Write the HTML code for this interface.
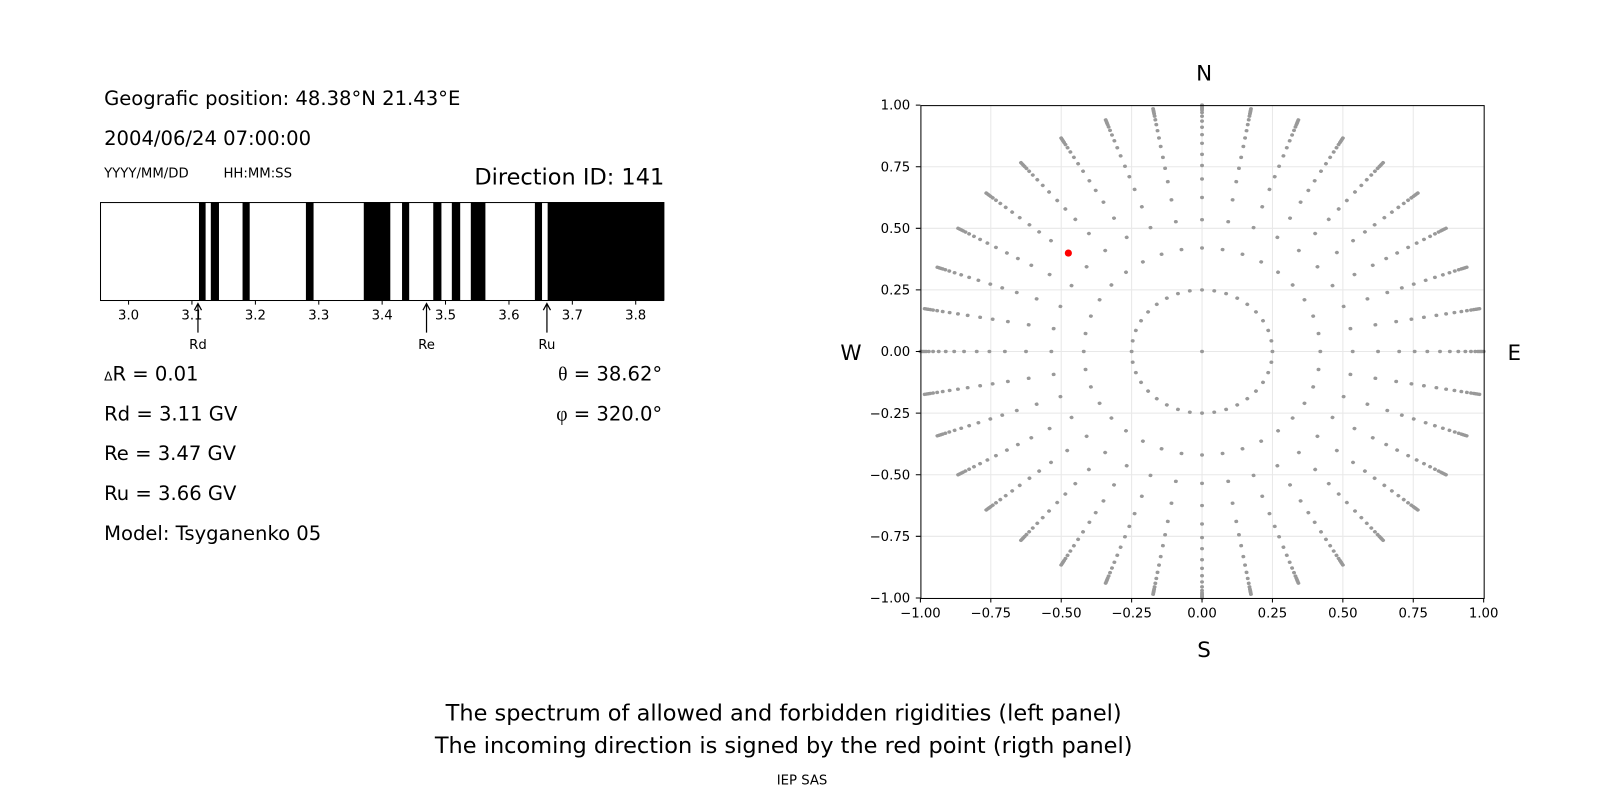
<!DOCTYPE html>
<html><head><meta charset="utf-8"><style>
html,body{margin:0;padding:0;background:#fff;}
svg{display:block;font-family:"DejaVu Sans","Liberation Sans",sans-serif;}
</style></head><body>
<svg width="1600" height="800" xmlns="http://www.w3.org/2000/svg" xmlns:xlink="http://www.w3.org/1999/xlink">
<rect width="1600" height="800" fill="#fff"/>
<defs>
<g id="sp" fill="#999">
<circle cx="0" cy="-0.25" r="0.007"/><circle cx="0" cy="-0.42" r="0.007"/><circle cx="0" cy="-0.535" r="0.007"/>
<circle cx="0" cy="-0.625" r="0.007"/><circle cx="0" cy="-0.70" r="0.007"/><circle cx="0" cy="-0.755" r="0.007"/>
<circle cx="0" cy="-0.80" r="0.007"/><circle cx="0" cy="-0.845" r="0.007"/><circle cx="0" cy="-0.88" r="0.007"/>
<circle cx="0" cy="-0.91" r="0.007"/><circle cx="0" cy="-0.935" r="0.007"/><circle cx="0" cy="-0.955" r="0.007"/>
<circle cx="0" cy="-0.97" r="0.007"/><circle cx="0" cy="-0.98" r="0.007"/><circle cx="0" cy="-0.987" r="0.007"/>
<circle cx="0" cy="-0.993" r="0.007"/><circle cx="0" cy="-1.0" r="0.007"/>
</g>
</defs>
<g transform="scale(1.0204)">
<text x="102" y="103" font-size="19.2">Geografic position: 48.38°N 21.43°E</text>
<text x="102" y="142" font-size="19.2">2004/06/24 07:00:00</text>
<text x="102" y="174" font-size="13">YYYY/MM/DD</text>
<text x="219" y="174" font-size="13">HH:MM:SS</text>
<text x="651" y="181" font-size="22" text-anchor="end">Direction ID: 141</text>
<g fill="#000">
<rect x="195" y="198" width="6.5" height="96"/>
<rect x="206.6" y="198" width="8" height="96"/>
<rect x="237.7" y="198" width="7" height="96"/>
<rect x="299.8" y="198" width="7.5" height="96"/>
<rect x="356.5" y="198" width="26" height="96"/>
<rect x="394" y="198" width="7" height="96"/>
<rect x="424.6" y="198" width="8" height="96"/>
<rect x="442.8" y="198" width="8.2" height="96"/>
<rect x="461.4" y="198" width="14.3" height="96"/>
<rect x="524.2" y="198" width="7" height="96"/>
<rect x="536.7" y="198" width="114.3" height="96"/>
</g>
<rect x="98.5" y="198.5" width="552" height="96" fill="none" stroke="#000" stroke-width="1"/>
<g stroke="#000" stroke-width="1">
<path d="M126 294v4.5M188.1 294v4.5M250.3 294v4.5M312.4 294v4.5M374.5 294v4.5M436.6 294v4.5M498.8 294v4.5M560.9 294v4.5M623 294v4.5"/>
</g>
<g font-size="13" text-anchor="middle">
<text x="126" y="313">3.0</text><text x="188.1" y="313">3.1</text><text x="250.3" y="313">3.2</text>
<text x="312.4" y="313">3.3</text><text x="374.5" y="313">3.4</text><text x="436.6" y="313">3.5</text>
<text x="498.8" y="313">3.6</text><text x="560.9" y="313">3.7</text><text x="623" y="313">3.8</text>
</g>
<g stroke="#000" stroke-width="1.2" fill="none">
<path d="M194 326V298M190.5 304L194 297.5L197.5 304"/>
<path d="M418 326V298M414.5 304L418 297.5L421.5 304"/>
<path d="M536 326V298M532.5 304L536 297.5L539.5 304"/>
</g>
<g font-size="13" text-anchor="middle">
<text x="194" y="342">Rd</text><text x="418" y="342">Re</text><text x="536" y="342">Ru</text>
</g>
<g font-size="19.2">
<text x="102" y="373"><tspan font-size="12">Δ</tspan>R = 0.01</text>
<text x="102" y="412">Rd = 3.11 GV</text>
<text x="102" y="451">Re = 3.47 GV</text>
<text x="102" y="490">Ru = 3.66 GV</text>
<text x="102" y="529">Model: Tsyganenko 05</text>
<text x="649" y="373" text-anchor="end"><tspan font-family="Liberation Serif,serif">θ</tspan> = 38.62°</text>
<text x="649" y="412" text-anchor="end"><tspan font-family="Liberation Serif,serif">φ</tspan> = 320.0°</text>
</g>
<g stroke="#e8e8e8" stroke-width="1">
<path d="M971 103V586M1040 103V586M1109 103V586M1178 103V586M1247 103V586M1316 103V586M1385 103V586"/>
<path d="M902 163.4H1454M902 223.75H1454M902 284.1H1454M902 344.5H1454M902 404.9H1454M902 465.25H1454M902 525.6H1454"/>
</g>
<g transform="translate(1178,344.5) scale(276,241.5)">
<circle cx="0" cy="0" r="0.007" fill="#999"/>
<use xlink:href="#sp" href="#sp" transform="rotate(0)"/><use xlink:href="#sp" href="#sp" transform="rotate(10)"/>
<use xlink:href="#sp" href="#sp" transform="rotate(20)"/><use xlink:href="#sp" href="#sp" transform="rotate(30)"/>
<use xlink:href="#sp" href="#sp" transform="rotate(40)"/><use xlink:href="#sp" href="#sp" transform="rotate(50)"/>
<use xlink:href="#sp" href="#sp" transform="rotate(60)"/><use xlink:href="#sp" href="#sp" transform="rotate(70)"/>
<use xlink:href="#sp" href="#sp" transform="rotate(80)"/><use xlink:href="#sp" href="#sp" transform="rotate(90)"/>
<use xlink:href="#sp" href="#sp" transform="rotate(100)"/><use xlink:href="#sp" href="#sp" transform="rotate(110)"/>
<use xlink:href="#sp" href="#sp" transform="rotate(120)"/><use xlink:href="#sp" href="#sp" transform="rotate(130)"/>
<use xlink:href="#sp" href="#sp" transform="rotate(140)"/><use xlink:href="#sp" href="#sp" transform="rotate(150)"/>
<use xlink:href="#sp" href="#sp" transform="rotate(160)"/><use xlink:href="#sp" href="#sp" transform="rotate(170)"/>
<use xlink:href="#sp" href="#sp" transform="rotate(180)"/><use xlink:href="#sp" href="#sp" transform="rotate(190)"/>
<use xlink:href="#sp" href="#sp" transform="rotate(200)"/><use xlink:href="#sp" href="#sp" transform="rotate(210)"/>
<use xlink:href="#sp" href="#sp" transform="rotate(220)"/><use xlink:href="#sp" href="#sp" transform="rotate(230)"/>
<use xlink:href="#sp" href="#sp" transform="rotate(240)"/><use xlink:href="#sp" href="#sp" transform="rotate(250)"/>
<use xlink:href="#sp" href="#sp" transform="rotate(260)"/><use xlink:href="#sp" href="#sp" transform="rotate(270)"/>
<use xlink:href="#sp" href="#sp" transform="rotate(280)"/><use xlink:href="#sp" href="#sp" transform="rotate(290)"/>
<use xlink:href="#sp" href="#sp" transform="rotate(300)"/><use xlink:href="#sp" href="#sp" transform="rotate(310)"/>
<use xlink:href="#sp" href="#sp" transform="rotate(320)"/><use xlink:href="#sp" href="#sp" transform="rotate(330)"/>
<use xlink:href="#sp" href="#sp" transform="rotate(340)"/><use xlink:href="#sp" href="#sp" transform="rotate(350)"/>
</g>
<circle cx="1047" cy="248" r="3.5" fill="#f00"/>
<rect x="902.5" y="103.5" width="552" height="483" fill="none" stroke="#000" stroke-width="1"/>
<g stroke="#000" stroke-width="1">
<path d="M902 586v4.5M971 586v4.5M1040 586v4.5M1109 586v4.5M1178 586v4.5M1247 586v4.5M1316 586v4.5M1385 586v4.5M1454 586v4.5"/>
<path d="M902 103h-4.5M902 163.4h-4.5M902 223.75h-4.5M902 284.1h-4.5M902 344.5h-4.5M902 404.9h-4.5M902 465.25h-4.5M902 525.6h-4.5M902 586h-4.5"/>
</g>
<g font-size="13" text-anchor="middle">
<text x="902" y="605">−1.00</text><text x="971" y="605">−0.75</text><text x="1040" y="605">−0.50</text>
<text x="1109" y="605">−0.25</text><text x="1178" y="605">0.00</text><text x="1247" y="605">0.25</text>
<text x="1316" y="605">0.50</text><text x="1385" y="605">0.75</text><text x="1454" y="605">1.00</text>
</g>
<g font-size="13" text-anchor="end">
<text x="892" y="107.5">1.00</text><text x="892" y="167.9">0.75</text><text x="892" y="228.25">0.50</text>
<text x="892" y="288.6">0.25</text><text x="892" y="349">0.00</text><text x="892" y="409.4">−0.25</text>
<text x="892" y="469.75">−0.50</text><text x="892" y="530.1">−0.75</text><text x="892" y="590.5">−1.00</text>
</g>
<g font-size="21" text-anchor="middle">
<text x="1180" y="79">N</text><text x="1180" y="644">S</text>
<text x="834" y="353">W</text><text x="1484" y="353">E</text>
</g>
<g font-size="22" text-anchor="middle">
<text x="768" y="706">The spectrum of allowed and forbidden rigidities (left panel)</text>
<text x="768" y="738">The incoming direction is signed by the red point (rigth panel)</text>
<text x="786" y="769" font-size="13">IEP SAS</text>
</g>
</g>
</svg>
</body></html>
